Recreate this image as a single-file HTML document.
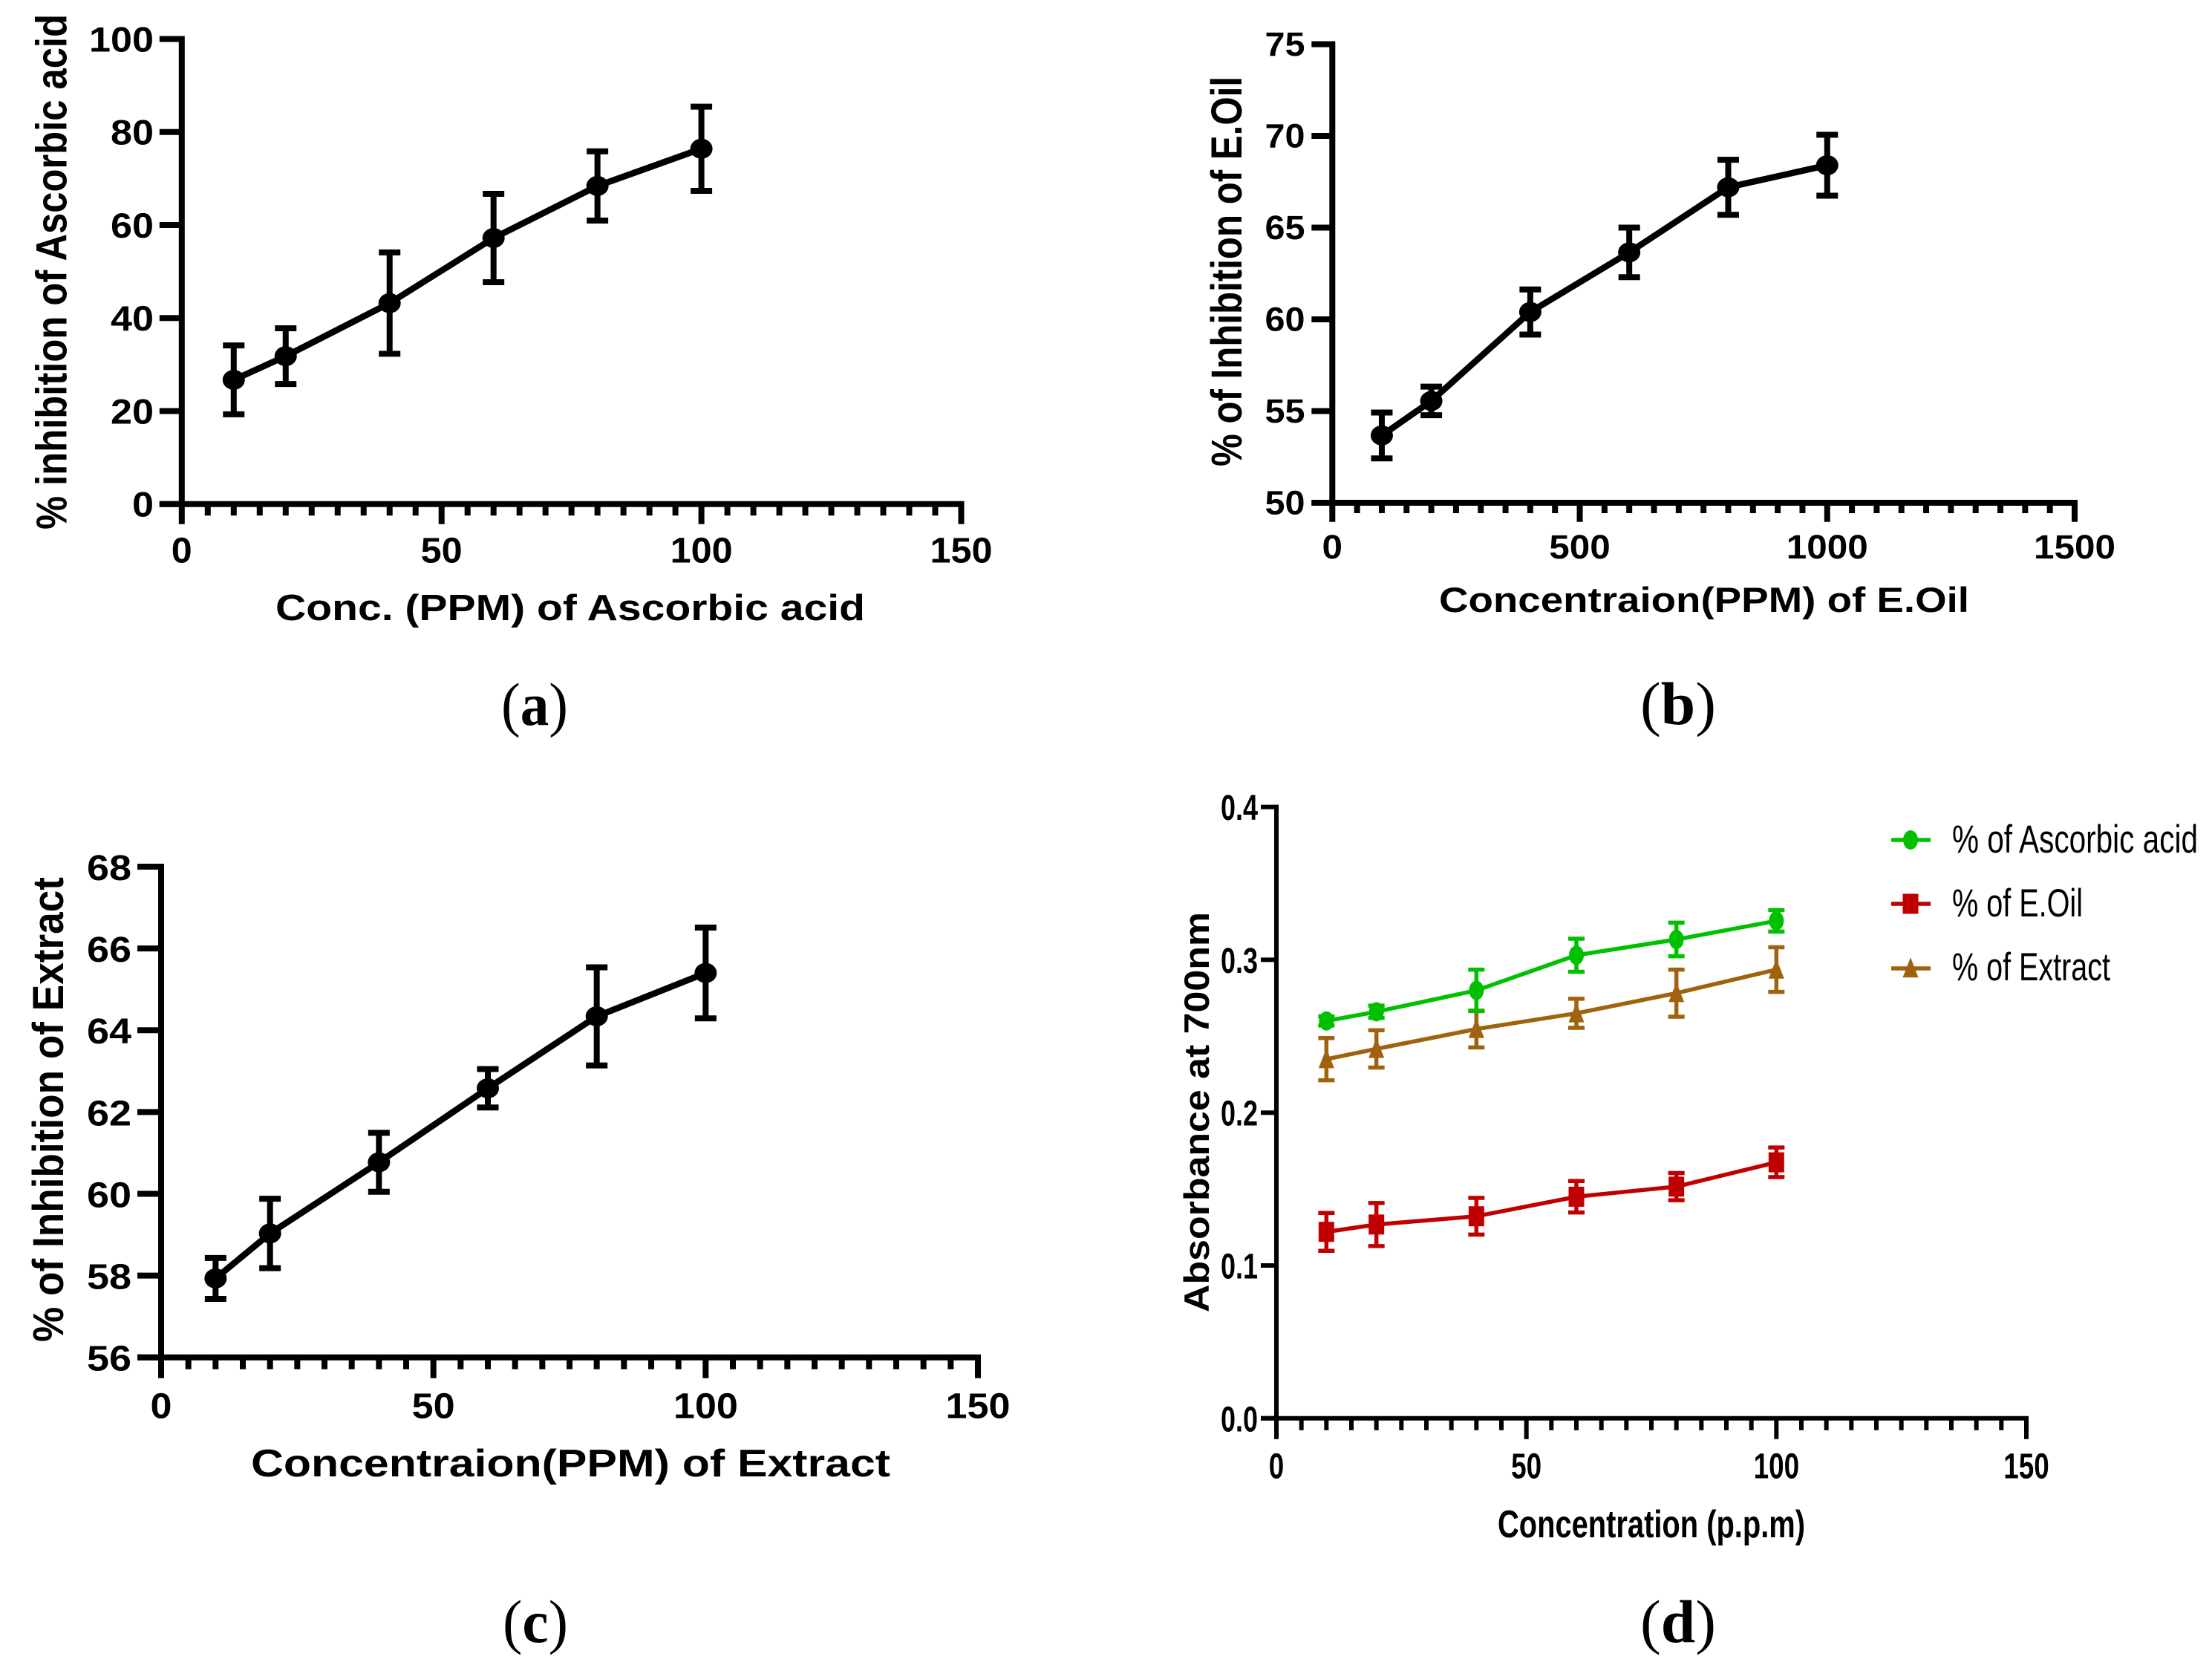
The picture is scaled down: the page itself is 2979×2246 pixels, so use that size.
<!DOCTYPE html>
<html lang="en">
<head>
<meta charset="utf-8">
<title>Antioxidant assay charts</title>
<style>
html,body{margin:0;padding:0;background:#fff;}
svg{display:block;}
text{font-family:"Liberation Sans",sans-serif;fill:#000;}
.bold{font-weight:700;}
.serif{font-family:"Liberation Serif",serif;font-size:82px;}
</style>
</head>
<body>
<svg id="figure" xmlns="http://www.w3.org/2000/svg" width="2979" height="2246" viewBox="0 0 2979 2246">
<rect width="2979" height="2246" fill="#fff"/>

<text class="bold" x="371" y="835" font-size="49" textLength="794" lengthAdjust="spacingAndGlyphs">Conc. (PPM) of Ascorbic acid</text>
<text class="bold" transform="translate(89.5,713) rotate(-90)" font-size="58" textLength="694" lengthAdjust="spacingAndGlyphs">% inhibition of Ascorbic acid</text>
<text class="serif" x="675" y="976" textLength="90" lengthAdjust="spacingAndGlyphs">(<tspan font-weight="700">a</tspan>)</text>

<text class="bold" x="1938" y="824" font-size="47" textLength="714" lengthAdjust="spacingAndGlyphs">Concentraion(PPM) of E.Oil</text>
<text class="bold" transform="translate(1672,628) rotate(-90)" font-size="58" textLength="525" lengthAdjust="spacingAndGlyphs">% of Inhibition of E.Oil</text>
<text class="serif" x="2209" y="975" textLength="102" lengthAdjust="spacingAndGlyphs">(<tspan font-weight="700">b</tspan>)</text>

<text class="bold" x="338" y="1988" font-size="52" textLength="861" lengthAdjust="spacingAndGlyphs">Concentraion(PPM) of Extract</text>
<text class="bold" transform="translate(85,1807) rotate(-90)" font-size="58" textLength="626" lengthAdjust="spacingAndGlyphs">% of Inhibition of Extract</text>
<text class="serif" x="677" y="2211" textLength="88" lengthAdjust="spacingAndGlyphs">(<tspan font-weight="700">c</tspan>)</text>

<text class="bold" x="2017" y="2070" font-size="52" textLength="414" lengthAdjust="spacingAndGlyphs">Concentration (p.p.m)</text>
<text class="bold" transform="translate(1628,1767) rotate(-90)" font-size="47" textLength="539" lengthAdjust="spacingAndGlyphs">Absorbance at 700nm</text>
<text class="serif" x="2209" y="2211" textLength="102" lengthAdjust="spacingAndGlyphs">(<tspan font-weight="700">d</tspan>)</text>

<text x="2629" y="1148" font-size="53" textLength="331" lengthAdjust="spacingAndGlyphs">% of Ascorbic acid</text>
<text x="2629" y="1234" font-size="53" textLength="176" lengthAdjust="spacingAndGlyphs">% of E.Oil</text>
<text x="2629" y="1320" font-size="53" textLength="213" lengthAdjust="spacingAndGlyphs">% of Extract</text>
</svg>

<script>
// ---- Panel (a) data ----
const aConc = [10, 20, 40, 60, 80, 100];
const aInhibition = [26.7, 31.8, 43.2, 57.2, 68.4, 76.4];
const aError = [7.4, 6.0, 10.9, 9.5, 7.45, 9.05];
const aXTicks = [0, 50, 100, 150];
const aYTicks = [0, 20, 40, 60, 80, 100];

// ---- Panel (b) data ----
const bConc = [100, 200, 400, 600, 800, 1000];
const bInhibition = [53.67, 55.55, 60.4, 63.65, 67.2, 68.4];
const bError = [1.25, 0.78, 1.23, 1.35, 1.5, 1.66];
const bXTicks = [0, 500, 1000, 1500];
const bYTicks = [50, 55, 60, 65, 70, 75];

// ---- Panel (c) data ----
const cConc = [10, 20, 40, 60, 80, 100];
const cInhibition = [57.93, 59.03, 60.77, 62.58, 64.34, 65.4];
const cError = [0.5, 0.85, 0.72, 0.47, 1.2, 1.11];
const cXTicks = [0, 50, 100, 150];
const cYTicks = [56, 58, 60, 62, 64, 66, 68];

// ---- Panel (d) data ----
const dConc = [10, 20, 40, 60, 80, 100];
const dAscorbic = [0.26, 0.266, 0.28, 0.303, 0.3133, 0.3255];
const dAscorbicError = [0.003, 0.004, 0.0136, 0.0108, 0.011, 0.007];
const dOil = [0.122, 0.1268, 0.1322, 0.145, 0.1516, 0.1675];
const dOilError = [0.0124, 0.0141, 0.012, 0.0103, 0.0089, 0.0097];
const dExtract = [0.235, 0.2417, 0.2547, 0.265, 0.2782, 0.2936];
const dExtractError = [0.0138, 0.0122, 0.012, 0.0095, 0.0154, 0.0146];
const dXTicks = [0, 50, 100, 150];
const dYTicks = ['0.0', '0.1', '0.2', '0.3', '0.4'];

const SVG_NS = 'http://www.w3.org/2000/svg';
const figure = document.getElementById('figure');

function make(parent, tag, props) {
  const el = document.createElementNS(SVG_NS, tag);
  for (const k in props) el.setAttribute(k, props[k]);
  parent.appendChild(el);
  return el;
}

function scale(d0, d1, r0, r1) {
  return function (v) { return r0 + (v - d0) / (d1 - d0) * (r1 - r0); };
}

function textWidth(s, w) {
  let t = 0;
  for (const ch of String(s)) t += ch === '.' ? w * 0.5 : w;
  return t;
}

function drawAxes(panel, layout, xTicks, yTicks) {
  const g = make(figure, 'g', { stroke: '#000', fill: 'none' });
  
  
  const sx = scale(xTicks[0], xTicks[xTicks.length - 1], layout.x0, layout.x1);
  const sy = scale(Number(yTicks[0]), Number(yTicks[yTicks.length - 1]), layout.y0, layout.y1);
  const half = layout.sw / 2;

  const xAxis = make(g, 'line', { x1: layout.x0 - layout.yTickLen, x2: layout.x1 + half, y1: layout.y0, y2: layout.y0, 'stroke-width': layout.sw });
  
  
  const yAxis = make(g, 'line', { x1: layout.x0, x2: layout.x0, y1: layout.y0, y2: layout.y1 - half, 'stroke-width': layout.sw });
  
  

  const last = xTicks[xTicks.length - 1];
  const minorStep = (xTicks[1] - xTicks[0]) / 10;
  for (let i = 1; i * minorStep < last; i++) {
    const v = i * minorStep;
    if (xTicks.indexOf(v) >= 0) continue;
    const minor = make(g, 'line', { x1: sx(v), x2: sx(v), y1: layout.y0, y2: layout.y0 + layout.minorLen, 'stroke-width': layout.sw });
    
    
  }

  xTicks.forEach(function (v) {
    const tick = make(g, 'line', { x1: sx(v), x2: sx(v), y1: layout.y0, y2: layout.y0 + layout.xTickLen, 'stroke-width': layout.sw });
    
    
    const label = make(figure, 'text', { x: sx(v), y: layout.xLabelY, 'text-anchor': 'middle', 'font-size': layout.xFont, 'font-weight': 700, textLength: textWidth(v, layout.xDigit), lengthAdjust: 'spacingAndGlyphs' });
    label.textContent = v;
    
    
  });

  yTicks.forEach(function (v) {
    const y = sy(Number(v));
    const tick = make(g, 'line', { x1: layout.x0, x2: layout.x0 - layout.yTickLen, y1: y, y2: y, 'stroke-width': layout.sw });
    
    
    const label = make(figure, 'text', { x: layout.yLabelRight, y: y + layout.yLabelDy, 'text-anchor': 'end', 'font-size': layout.yFont, 'font-weight': 700, textLength: textWidth(v, layout.yDigit), lengthAdjust: 'spacingAndGlyphs' });
    label.textContent = v;
    
    
  });
  return { sx: sx, sy: sy };
}

function marker(parent, shape, cx, cy, rx, ry, color) {
  if (shape === 'circle') return make(parent, 'ellipse', { cx: cx, cy: cy, rx: rx, ry: ry, fill: color });
  if (shape === 'square') return make(parent, 'rect', { x: cx - rx, y: cy - ry, width: rx * 2, height: ry * 2, fill: color });
  const pts = [[cx, cy - ry * 1.1], [cx + rx, cy + ry * 0.9], [cx - rx, cy + ry * 0.9]];
  return make(parent, 'polygon', { points: pts.map(function (p) { return p.join(','); }).join(' '), fill: color });
}

function drawSeries(name, axes, xs, ys, errs, style) {
  const g = make(figure, 'g', {});
  
  
  xs.forEach(function (xv, i) {
    const x = axes.sx(xv);
    const top = axes.sy(ys[i] + errs[i]);
    const bottom = axes.sy(ys[i] - errs[i]);
    const bar = make(g, 'path', { d: 'M' + (x - style.cap) + ' ' + top + 'H' + (x + style.cap) + 'M' + x + ' ' + top + 'V' + bottom + 'M' + (x - style.cap) + ' ' + bottom + 'H' + (x + style.cap), stroke: style.color, 'stroke-width': style.errWidth, fill: 'none' });
    
    
  });
  const pts = xs.map(function (xv, i) { return axes.sx(xv) + ',' + axes.sy(ys[i]); }).join(' ');
  const line = make(g, 'polyline', { points: pts, fill: 'none', stroke: style.color, 'stroke-width': style.lineWidth, 'stroke-linejoin': 'round' });
  
  
  xs.forEach(function (xv, i) {
    const m = marker(g, style.shape, axes.sx(xv), axes.sy(ys[i]), style.rx, style.ry, style.color);
    
    
  });
}

function drawLegendKey(name, y, style) {
  const g = make(figure, 'g', {});
  
  
  make(g, 'line', { x1: 2547, x2: 2600, y1: y, y2: y, stroke: style.color, 'stroke-width': 5.5 });
  marker(g, style.shape, 2573, y, style.rx, style.ry, style.color);
}

const axesA = drawAxes('panel-a', { x0: 244.8, x1: 1294.5, y0: 678.7, y1: 52.5, sw: 8, yTickLen: 30, xTickLen: 27, minorLen: 15.5, xLabelY: 757.5, xFont: 48, xDigit: 28, yLabelRight: 207, yLabelDy: 17, yFont: 47, yDigit: 29 }, aXTicks, aYTicks);
const axesB = drawAxes('panel-b', { x0: 1794.3, x1: 2794, y0: 677, y1: 59.5, sw: 8, yTickLen: 28, xTickLen: 25.7, minorLen: 14, xLabelY: 752, xFont: 45, xDigit: 27.5, yLabelRight: 1757.5, yLabelDy: 15.5, yFont: 45, yDigit: 27 }, bXTicks, bYTicks);
const axesC = drawAxes('panel-c', { x0: 217, x1: 1317, y0: 1827.7, y1: 1167, sw: 8, yTickLen: 32, xTickLen: 28, minorLen: 16, xLabelY: 1909.5, xFont: 48, xDigit: 29, yLabelRight: 177, yLabelDy: 18, yFont: 48, yDigit: 30 }, cXTicks, cYTicks);
const axesD = drawAxes('panel-d', { x0: 1719, x1: 2729, y0: 1909.8, y1: 1086.6, sw: 6, yTickLen: 21, xTickLen: 28, minorLen: 16, xLabelY: 1990.5, xFont: 48, xDigit: 20.5, yLabelRight: 1694, yLabelDy: 17.5, yFont: 48, yDigit: 20 }, dXTicks, dYTicks);

const blackStyle = { color: '#000', lineWidth: 8.5, errWidth: 8, cap: 14.5, rx: 15, ry: 13.5, shape: 'circle' };
const greenStyle = { color: '#00c000', lineWidth: 5.5, errWidth: 5.5, cap: 11, rx: 10, ry: 13, shape: 'circle' };
const redStyle = { color: '#c00000', lineWidth: 5.5, errWidth: 5.5, cap: 11, rx: 10.5, ry: 13.5, shape: 'square' };
const brownStyle = { color: '#a0620f', lineWidth: 5.5, errWidth: 5.5, cap: 11, rx: 10.5, ry: 13.5, shape: 'triangle' };

drawSeries('panel-a', axesA, aConc, aInhibition, aError, blackStyle);
drawSeries('panel-b', axesB, bConc, bInhibition, bError, blackStyle);
drawSeries('panel-c', axesC, cConc, cInhibition, cError, blackStyle);
drawSeries('panel-d-extract', axesD, dConc, dExtract, dExtractError, brownStyle);
drawSeries('panel-d-e-oil', axesD, dConc, dOil, dOilError, redStyle);
drawSeries('panel-d-ascorbic-acid', axesD, dConc, dAscorbic, dAscorbicError, greenStyle);

drawLegendKey('legend-key-ascorbic-acid', 1131, greenStyle);
drawLegendKey('legend-key-e-oil', 1217, redStyle);
drawLegendKey('legend-key-extract', 1304, brownStyle);
</script>
</body>
</html>
